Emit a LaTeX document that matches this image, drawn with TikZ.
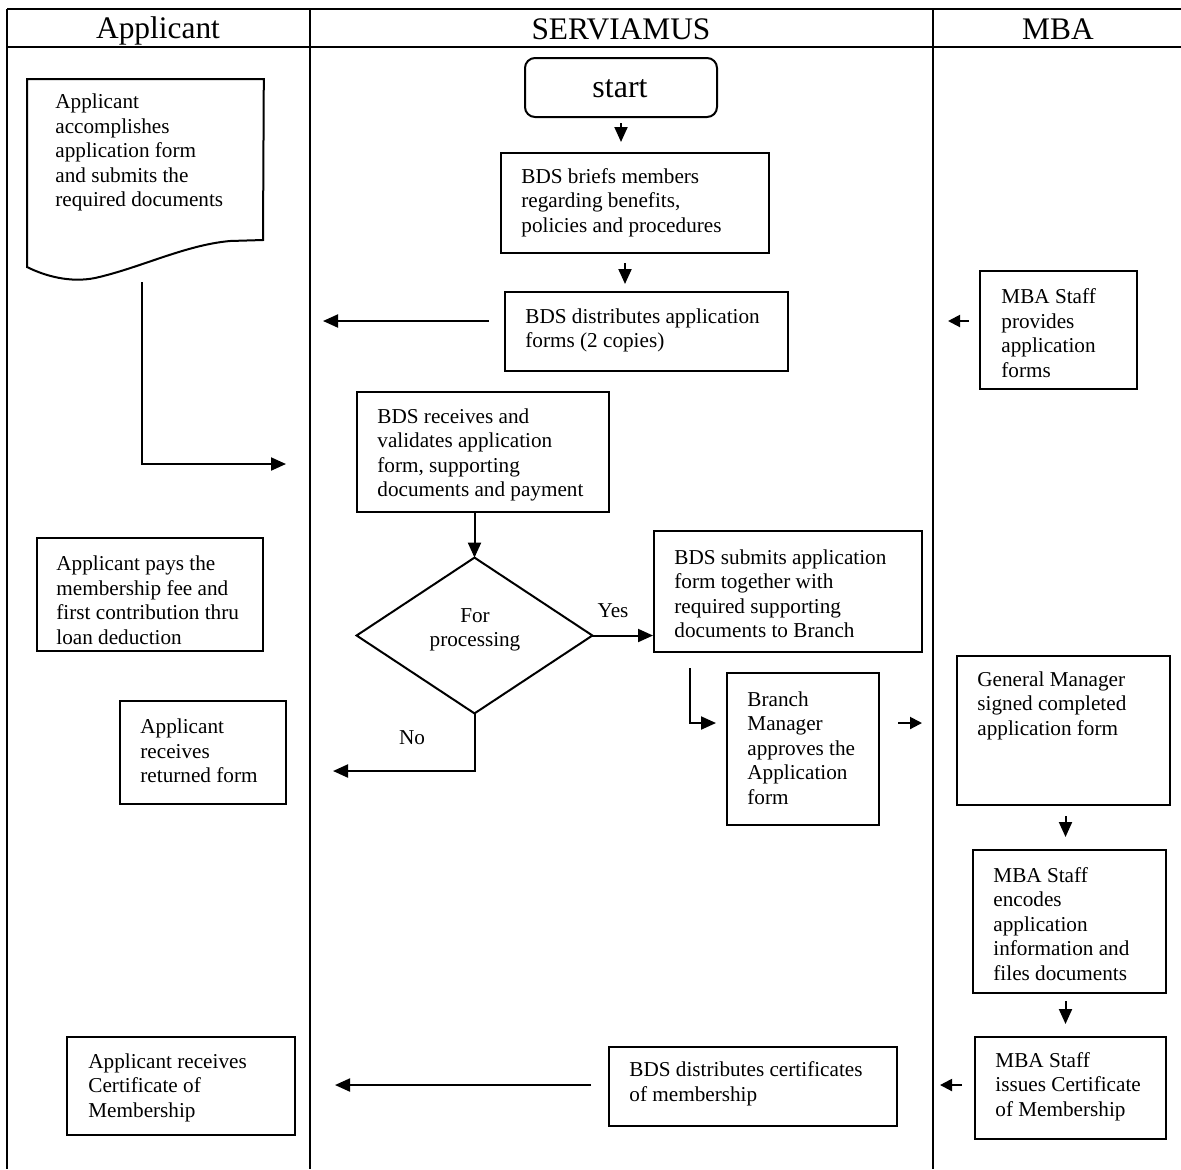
\documentclass[tikz,border=0pt]{standalone}
\usepackage{fontspec}
\setmainfont{Liberation Serif}
\usetikzlibrary{arrows.meta}
\begin{document}
\begin{tikzpicture}[x=0.5pt,y=-0.5pt,
  lane/.style={line width=0.6pt},
  boxn/.style={draw, line width=1pt, inner sep=0pt, rectangle},
  txt/.style={inner sep=0pt, align=left, anchor=west, yshift=-1pt, font={\fontsize{10.6}{12.25}\selectfont}},
  hdr/.style={inner sep=0pt, anchor=base, font={\fontsize{15.7}{18}\selectfont}},
  arr/.style={line width=1pt, -{Triangle[length=7.5pt,width=6.5pt]}},
  sarr/.style={line width=1pt, -{Triangle[length=6pt,width=6pt]}},
]
\useasboundingbox (0,0) rectangle (1181,1169);
\fill[white] (0,0) rectangle (1181,1169);

% swimlanes
\draw[lane] (7,9) -- (1181,9);
\draw[lane] (7,47) -- (1181,47);
\draw[lane] (7,9) -- (7,1169);
\draw[lane] (310,9) -- (310,1169);
\draw[lane] (933,9) -- (933,1169);
\node[hdr] (h1) at (158,38) {Applicant};
\node[hdr] (h2) at (621,39) {SERVIAMUS};
\node[hdr] (h3) at (1058,39) {MBA};

% Applicant lane
\node[inner sep=0pt, minimum width=118pt, minimum height=100pt, anchor=north west] (doc) at (27,79) {};
\draw[line width=1pt] (doc.north west) -- (doc.north east) -- (263,240) -- (230,241)
  .. controls (185,245) and (140,268) .. (95,278)
  .. controls (70,283) and (45,276) .. (27,267) -- cycle;
\node[txt] (doct) at (55,150.5) {Applicant\\accomplishes\\application form\\and submits the\\required documents};

\node[boxn, minimum width=113pt, minimum height=56.5pt] (pays) at (150,594.5) {};
\node[txt] (payst) at (56,598) {Applicant pays the\\membership fee and\\first contribution thru\\loan deduction};

\node[boxn, minimum width=83pt, minimum height=51.5pt] (ret) at (203,752.5) {};
\node[txt] (rett) at (140,749) {Applicant\\receives\\returned form};

\node[boxn, minimum width=114pt, minimum height=49pt] (appcert) at (181,1086) {};
\node[txt] (appcertt) at (88,1085.5) {Applicant receives\\Certificate of\\Membership};

% SERVIAMUS lane
\node[draw, line width=1pt, rounded corners=5pt, inner sep=0pt, minimum width=96pt, minimum height=29.5pt] (startn) at (621,87.5) {};
\node[inner sep=0pt, font={\fontsize{16}{19}\selectfont}] (startt) at (620,89) {start};

\node[boxn, minimum width=134pt, minimum height=50pt] (brief) at (635,203) {};
\node[txt] (brieft) at (521,200.5) {BDS briefs members\\regarding benefits,\\policies and procedures};

\node[boxn, minimum width=141.5pt, minimum height=39.5pt] (distapp) at (646.5,331.5) {};
\node[txt] (distappt) at (525,328.5) {BDS distributes application\\forms (2 copies)};

\node[boxn, minimum width=126pt, minimum height=60pt] (receives) at (483,452) {};
\node[txt] (receivest) at (377,453) {BDS receives and\\validates application\\form, supporting\\documents and payment};

\node[inner sep=0pt, minimum width=117.5pt, minimum height=77.5pt] (dia) at (474.5,635.5) {};
\draw[line width=1pt] (dia.north) -- (dia.east) -- (dia.south) -- (dia.west) -- cycle;
\node[txt, anchor=center, align=center] (diat) at (475,628) {For\\processing};

\node[boxn, minimum width=134pt, minimum height=60.5pt] (submit) at (788,591.5) {};
\node[txt] (submitt) at (674,591.5) {BDS submits application\\form together with\\required supporting\\documents to Branch};

\node[boxn, minimum width=76pt, minimum height=76pt] (branch) at (803,749) {};
\node[txt] (brancht) at (747,746) {Branch\\Manager\\approves the\\Application\\form};

\node[boxn, minimum width=144pt, minimum height=39.5pt] (certs) at (753,1086.5) {};
\node[txt] (certst) at (629,1082) {BDS distributes certificates\\of membership};

% MBA lane
\node[boxn, minimum width=78.5pt, minimum height=59pt] (provides) at (1058.5,330) {};
\node[txt] (providest) at (1001,331) {MBA Staff\\provides\\application\\forms};

\node[boxn, minimum width=106.5pt, minimum height=74.5pt] (gm) at (1063.5,730.5) {};
\node[txt] (gmt) at (977,703.5) {General Manager\\signed completed\\application form};

\node[boxn, minimum width=96.5pt, minimum height=71.5pt] (encodes) at (1069.5,921.5) {};
\node[txt] (encodest) at (993,922) {MBA Staff\\encodes\\application\\information and\\files documents};

\node[boxn, minimum width=95.5pt, minimum height=51pt] (issues) at (1070.5,1088) {};
\node[txt] (issuest) at (995,1084.5) {MBA Staff\\issues Certificate\\of Membership};

% free ends
\coordinate (t1) at (323,321);
\coordinate (t2) at (948,321);
\coordinate (docb) at (142,282);
\coordinate (t3) at (286,464);
\coordinate (c8) at (690,668);
\coordinate (t8) at (716,723);
\coordinate (c9a) at (898,723);
\coordinate (c9b) at (922,723);
\coordinate (t12) at (940,1085);
\coordinate (t13) at (335,1085);
\coordinate (t14) at (333,771);

% connectors
\draw[arr, shorten <=2.5pt, shorten >=5pt] (startn.south) -- (startn.south |- brief.north);
\draw[arr, shorten <=4.5pt, shorten >=3.5pt] ([xshift=-5pt]brief.south) -- ([xshift=-5pt]brief.south |- distapp.north);
\draw[arr, shorten <=7.5pt] (distapp.west |- t1) -- (t1);
\draw[sarr, shorten <=5pt] (provides.west |- t2) -- (t2);
\draw[arr] (docb) |- (t3);
\draw[arr] (receives.south -| dia.north) -- (dia.north);
\draw[arr] (dia.east) -- (dia.east -| submit.west);
\node[txt, anchor=center] (yes) at (613,609) {Yes};
\draw[arr] (c8) |- (t8);
\draw[sarr] (c9a) -- (c9b);
\draw[arr, shorten <=5pt, shorten >=6pt] ([xshift=1pt]gm.south) -- ([xshift=1pt]gm.south |- encodes.north);
\draw[arr, shorten <=3.5pt, shorten >=6pt] ([xshift=-2pt]encodes.south) -- ([xshift=-2pt]encodes.south |- issues.north);
\draw[sarr, shorten <=6pt] (issues.west |- t12) -- (t12);
\draw[arr, shorten <=8.5pt] (certs.west |- t13) -- (t13);
\draw[arr] (dia.south) |- (t14);
\node[txt, anchor=center] (no) at (412,736) {No};
\end{tikzpicture}
\end{document}
